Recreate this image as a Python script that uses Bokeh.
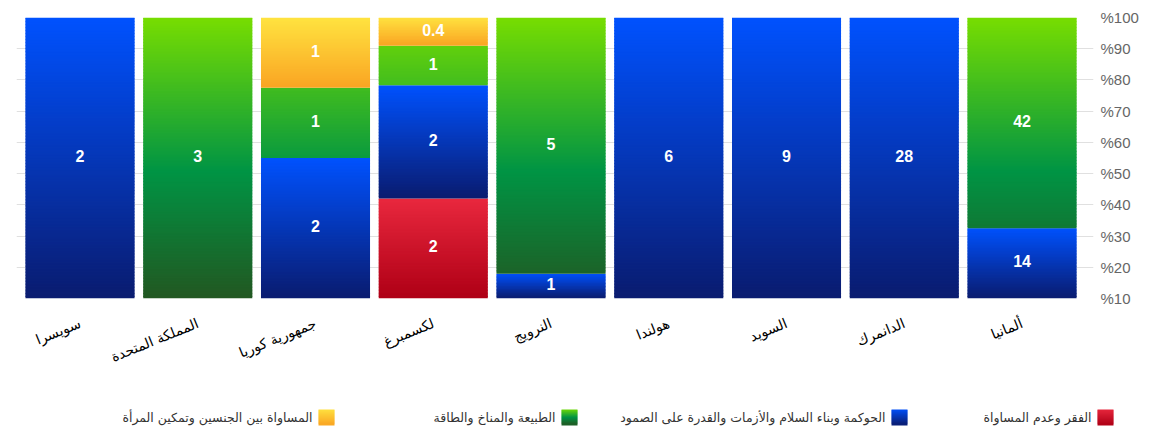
import math
from bokeh.plotting import figure
from bokeh.models import Range1d, FixedTicker, ColumnDataSource
from bokeh.layouts import column
from bokeh.core.properties import value
from bokeh.embed import file_html
from bokeh.resources import INLINE

# ---------------- data ----------------
categories = ["سويسرا", "المملكة المتحدة", "جمهورية كوريا", "لكسمبرغ", "النرويج",
              "هولندا", "السويد", "الدانمرك", "ألمانيا"]
poverty = [0, 0, 0, 1.52, 0, 0, 0, 0, 0]            # الفقر وعدم المساواة
governance = [2, 0, 2, 1.72, 0.52, 6, 9, 28, 14]     # الحوكمة وبناء السلام ...
nature = [0, 3, 1, 0.6, 5.4, 0, 0, 0, 42]            # الطبيعة والمناخ والطاقة
gender = [0, 0, 1, 0.43, 0, 0, 0, 0, 0]              # المساواة بين الجنسين ...
series_names = ["الفقر وعدم المساواة",
                "الحوكمة وبناء السلام والأزمات والقدرة على الصمود",
                "الطبيعة والمناخ والطاقة",
                "المساواة بين الجنسين وتمكين المرأة"]
tick_labels = ["%10", "%20", "%30", "%40", "%50", "%60", "%70", "%80", "%90", "%100"]

# ---------------- styles ----------------
RED = [(0, (233, 40, 62)), (1, (175, 0, 22))]
BLUE = [(0, (0, 82, 255)), (1, (10, 28, 112))]
GREEN = [(0, (120, 222, 0)), (0.55, (0, 148, 68)), (1, (34, 88, 34))]
YELLOW = [(0, (255, 228, 64)), (1, (250, 165, 35))]
series = [(poverty, RED, False), (governance, BLUE, False),
          (nature, GREEN, True), (gender, YELLOW, False)]
BAR_W = 0.926


def interp(stops, f):
    f = min(max(f, 0.0), 1.0)
    for (p0, c0), (p1, c1) in zip(stops, stops[1:]):
        if f <= p1:
            t = (f - p0) / (p1 - p0) if p1 > p0 else 0
            return "#%02x%02x%02x" % tuple(int(round(a + (b - a) * t)) for a, b in zip(c0, c1))
    c = stops[-1][1]
    return "#%02x%02x%02x" % c


def fmt(v):
    if v < 0.5:
        return f"{v:.1f}"
    return str(int(math.floor(v + 0.5)))


strips = dict(left=[], right=[], bottom=[], top=[], color=[])
labels = dict(x=[], y=[], text=[])
for i in range(len(categories)):
    total = sum(s[0][i] for s in series)
    base = 0.0
    for vals, stops, absolute in series:
        v = vals[i]
        if v <= 0:
            continue
        h = v / total * 100.0
        b, t = base, base + h
        n = max(3, int(math.ceil(h * 2.81 / 1.5)))
        for k in range(n):
            s_top = t - h * k / n
            s_bot = t - h * (k + 1) / n
            mid = (s_top + s_bot) / 2
            f = (1 - mid / 100.0) if absolute else (t - mid) / h
            strips["left"].append(i - BAR_W / 2)
            strips["right"].append(i + BAR_W / 2)
            strips["bottom"].append(s_bot)
            # overlap into the strip above to hide anti-aliasing seams
            strips["top"].append(min(t, s_top + h / n * 0.6))
            strips["color"].append(interp(stops, f))
        labels["x"].append(i)
        labels["y"].append((b + t) / 2)
        labels["text"].append(fmt(v))
        base = t

ytick_pos = [100.0 * k / 9 for k in range(10)]

p = figure(width=1156, height=390, output_backend="svg", toolbar_location=None,
           x_range=Range1d(-0.5393, 8.607), y_range=Range1d(0, 100),
           y_axis_location="right",
           min_border_left=16, min_border_right=63, min_border_top=17, min_border_bottom=92)
p.outline_line_color = None
p.background_fill_color = "white"
p.border_fill_color = "white"
p.xgrid.visible = False
p.ygrid.ticker = FixedTicker(ticks=ytick_pos)
p.ygrid.grid_line_color = "#e0e0e0"
p.ygrid.grid_line_width = 1

p.quad(left="left", right="right", bottom="bottom", top="top",
       fill_color="color", line_color=None,
       source=ColumnDataSource(strips))
p.text(x="x", y="y", text="text", source=ColumnDataSource(labels),
       text_color="white", text_font=value("Liberation Sans"), text_font_style="bold",
       text_font_size="16px", text_align="center", text_baseline="middle", y_offset=-2)

ya = p.yaxis[0]
ya.ticker = FixedTicker(ticks=ytick_pos)
ya.major_label_overrides = {pos: lab for pos, lab in zip(ytick_pos, tick_labels)}
ya.axis_line_color = None
ya.major_tick_line_color = None
ya.major_tick_out = 0
ya.major_tick_in = 0
ya.minor_tick_line_color = None
ya.major_label_standoff = 7
ya.major_label_text_font = "Liberation Sans"
ya.major_label_text_font_size = "15px"
ya.major_label_text_color = "#666666"

xa = p.xaxis[0]
xa.ticker = FixedTicker(ticks=list(range(len(categories))))
xa.major_label_overrides = {i: c for i, c in enumerate(categories)}
xa.axis_line_color = None
xa.major_tick_line_color = None
xa.major_tick_out = 0
xa.major_tick_in = 0
xa.minor_tick_line_color = None
xa.major_label_orientation = math.radians(22)
xa.major_label_standoff = 24
xa.major_label_text_font = "DejaVu Sans"
xa.major_label_text_font_size = "14px"
xa.major_label_text_color = "#000000"

# ---------------- legend (right-to-left) ----------------
leg = figure(width=1156, height=36, output_backend="svg", toolbar_location=None,
             x_range=Range1d(0, 1156), y_range=Range1d(0, 36),
             x_axis_location=None, y_axis_location=None, min_border=0)
for fig in (p, leg):
    try:
        fig.frame_align = False
    except Exception:
        pass
leg.grid.visible = False
leg.outline_line_color = None
leg.background_fill_color = "white"
leg.border_fill_color = "white"

square_left = [1097, 891, 561, 318]
SQ = 16
lstrips = dict(left=[], right=[], bottom=[], top=[], color=[])
ltext = dict(x=[], y=[], text=[])
for (vals, stops, absolute), name, xl in zip(series, series_names, square_left):
    n = 8
    for k in range(n):
        f = (k + 0.5) / n
        lstrips["left"].append(xl)
        lstrips["right"].append(xl + SQ)
        lstrips["top"].append(min(17, 17 - SQ * k / n + 1))
        lstrips["bottom"].append(17 - SQ * (k + 1) / n)
        lstrips["color"].append(interp(stops, f))
    ltext["x"].append(xl - 6)
    ltext["y"].append(9)
    ltext["text"].append(name)
leg.quad(left="left", right="right", bottom="bottom", top="top",
         fill_color="color", line_color=None,
         source=ColumnDataSource(lstrips))
leg.text(x="x", y="y", text="text", source=ColumnDataSource(ltext),
         text_color="#333333", text_font=value("DejaVu Sans"), text_font_size="12.5px",
         text_align="right", text_baseline="middle")

layout = column(p, leg, spacing=0)
open("out.html", "w").write(file_html(layout, INLINE))
